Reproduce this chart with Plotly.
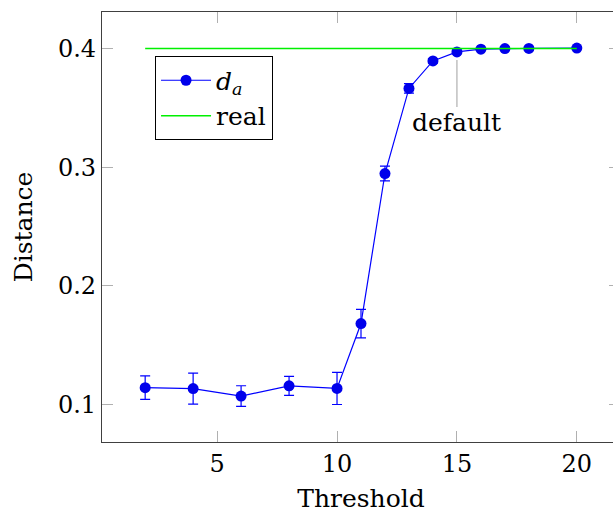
import plotly.graph_objects as go

# Mean distance d_a per threshold, with standard deviation
thresholds = [2, 4, 6, 8, 10, 11, 12, 13, 14, 15, 16, 17, 18, 20]
distance = [0.1143, 0.1135, 0.1072, 0.1158, 0.1136, 0.1683, 0.2947, 0.3664,
            0.3896, 0.3972, 0.3995, 0.4000, 0.4001, 0.4004]
distance_err = [0.0099, 0.0131, 0.0087, 0.0080, 0.0135, 0.0120, 0.0062, 0.0040,
                0.0020, 0.0015, 0.0010, 0.0010, 0.0010, 0.0010]

# True distance
real_x = [2, 20]
real_y = [0.4, 0.4]

default_threshold = 15
x_ticks = [5, 10, 15, 20]
y_ticks = [0.1, 0.2, 0.3, 0.4]

FONT = "DejaVu Serif"
BLUE = "rgb(0,0,235)"

fig = go.Figure()

fig.add_trace(go.Scatter(
    x=thresholds, y=distance,
    mode="lines+markers",
    name="<i>d</i><sub><i>a</i></sub>",
    line=dict(color="blue", width=1.2),
    marker=dict(color=BLUE, size=11, line=dict(width=0)),
    error_y=dict(type="data", array=distance_err, visible=True,
                 color="blue", thickness=1.2, width=5),
))

fig.add_trace(go.Scatter(
    x=real_x, y=real_y,
    mode="lines",
    name="real",
    line=dict(color="rgb(0,240,0)", width=1.5),
))

# Pin marking the default threshold
default_y = distance[thresholds.index(default_threshold)]
fig.add_annotation(
    x=default_threshold, y=default_y,
    text="default",
    showarrow=True, arrowhead=0, arrowwidth=1.2, arrowcolor="#b0b0b0",
    ax=0, ay=71, standoff=8,
    font=dict(family=FONT, size=25, color="black"),
)

axis_common = dict(
    showgrid=False, zeroline=False,
    showline=True, linecolor="#404040", linewidth=1.3,
    mirror="ticks", ticks="inside", ticklen=11, tickwidth=1.2,
    tickcolor="#b0b0b0",
    tickfont=dict(family=FONT, size=24, color="black"),
)

fig.update_xaxes(
    range=[0.2, 21.8], tickvals=x_ticks,
    title=dict(text="Threshold", font=dict(family=FONT, size=25, color="black"),
               standoff=14),
    **axis_common,
)
fig.update_yaxes(
    range=[0.0685, 0.4308], tickvals=y_ticks, tickformat=".1f",
    title=dict(text="Distance", font=dict(family=FONT, size=25, color="black"),
               standoff=18),
    **axis_common,
)

fig.update_layout(
    width=621, height=513,
    margin=dict(l=102, r=1, t=12, b=71),
    plot_bgcolor="white", paper_bgcolor="white",
    font=dict(family=FONT, size=24, color="black"),
    showlegend=True,
    legend=dict(
        x=0.102, y=0.897, xanchor="left", yanchor="top",
        bordercolor="black", borderwidth=1.2, bgcolor="white",
        font=dict(family=FONT, size=25, color="black"),
        itemwidth=50, tracegroupgap=0,
    ),
)

fig.write_html("out.html")
